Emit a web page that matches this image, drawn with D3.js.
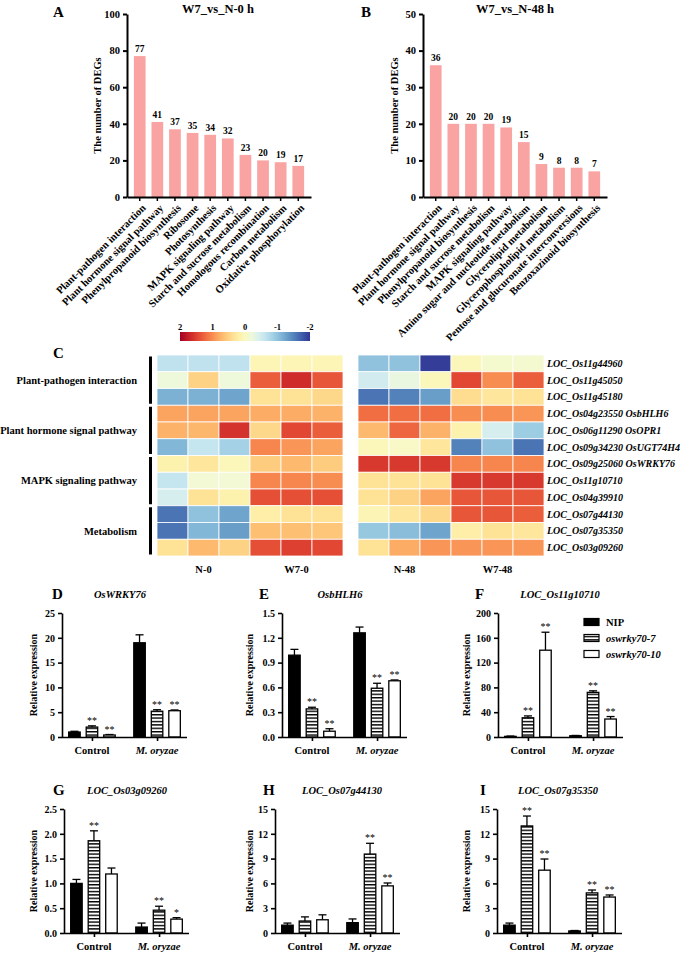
<!DOCTYPE html>
<html><head><meta charset="utf-8">
<script src="https://cdn.jsdelivr.net/npm/d3@7"></script>
<style>
body{margin:0;background:#fff}
svg{display:block}
text{font-family:"Liberation Serif","Times New Roman",serif;font-weight:bold;fill:#000}
</style>
</head><body>
<svg id="c" width="685" height="954"></svg>
<script>
// ---------- DATA ----------
const pathwaysA = ["Plant-pathogen interaction","Plant hormone signal pathway","Phenylpropanoid biosynthesis","Ribosome","Photosynthesis","MAPK signaling pathway","Starch and sucrose metabolism","Homologous recombination","Carbon metabolism","Oxidative phosphorylation"];
const degA = [77,41,37,35,34,32,23,20,19,17];
const pathwaysB = ["Plant-pathogen interaction","Plant hormone signal pathway","Phenylpropanoid biosynthesis","Starch and sucrose metabolism","MAPK signaling pathway","Amino sugar and nucleotide metabolism","Glycerolipid metabolism","Glycerophospholipid metabolism","Pentose and glucuronate interconversions","Benzoxazinoid biosynthesis"];
const degB = [36,20,20,20,19,15,9,8,8,7];

const heatGenes = ["LOC_Os11g44960","LOC_Os11g45050","LOC_Os11g45180","LOC_Os04g23550 OsbHLH6","LOC_Os06g11290 OsOPR1","LOC_Os09g34230 OsUGT74H4","LOC_Os09g25060 OsWRKY76","LOC_Os11g10710","LOC_Os04g39910","LOC_Os07g44130","LOC_Os07g35350","LOC_Os03g09260"];
const heatGroupNames = ["Plant-pathogen interaction","Plant hormone signal pathway","MAPK signaling pathway","Metabolism"];
const heatGroupSizes = [3,3,3,3];
const heatSamples = ["N-0","W7-0","N-48","W7-48"];
const colorTicks = [2,1,0,-1,-2];
// each row: N-0 x3, W7-0 x3, N-48 x3, W7-48 x3
const heatValues = [
  [-0.65,-0.65,-0.65, 0.08,0.08,0.08,  -1.0,-1.0,-1.95, 0.05,-0.1,-0.12],
  [-0.2,0.5,-0.2,     1.3,1.65,1.35,   -0.5,-0.25,0.05, 1.45,1.0,1.3],
  [-1.15,-1.15,-1.25, 0.35,0.35,0.45,  -1.6,-1.5,-1.3,  0.4,0.3,0.35],
  [0.85,0.85,0.85,    0.8,0.8,0.75,    1.2,1.2,1.2,     1.0,1.0,0.95],
  [0.75,0.72,1.6,     0.45,1.45,1.3,   0.7,1.25,0.75,   0.15,-0.45,-0.9],
  [-1.1,-0.6,-0.85,   1.05,0.95,0.85,  0.05,-0.05,0.3,  -1.5,-1.0,-1.6],
  [0.15,0.3,0.05,     0.55,0.7,0.55,   1.55,1.55,1.55,  1.05,1.05,1.05],
  [-0.6,-0.15,-0.15,  1.05,1.05,1.0,   0.35,0.35,0.35,  1.55,1.55,1.55],
  [-0.45,0.35,0.15,   1.4,1.4,1.4,     0.35,0.5,0.85,   1.35,1.35,1.35],
  [-1.6,-1.0,-1.25,   0.2,0.35,0.35,   0.1,0.3,0.45,    1.35,1.35,1.3],
  [-1.6,-1.1,-1.3,    0.65,0.65,0.6,   -0.95,-1.05,-1.25, 0.2,0.35,0.3],
  [0.35,0.7,0.5,      1.4,1.5,1.45,    0.35,0.8,0.95,   0.95,0.95,0.95]
];

const genotypes = ["NIP","oswrky70-7","oswrky70-10"];
const treatments = ["Control","M. oryzae"];
// order: Control NIP, 70-7, 70-10, M. oryzae NIP, 70-7, 70-10
const wrky76Mean = [1.0,2.0,0.4,19.0,5.2,5.3];
const wrky76Err  = [0.15,0.25,0.1,1.6,0.3,0.15];
const wrky76Sig  = ["","**","**","","**","**"];
const bhlh6Mean = [0.99,0.34,0.07,1.26,0.59,0.68];
const bhlh6Err  = [0.07,0.02,0.03,0.07,0.06,0.01];
const bhlh6Sig  = ["","**","**","","**","**"];
const g10710Mean = [1,31,140,2,72,29];
const g10710Err  = [0.5,3,29,0.5,2.5,4];
const g10710Sig  = ["","**","**","","**","**"];
const g09260Mean = [1.0,1.86,1.19,0.12,0.46,0.28];
const g09260Err  = [0.08,0.2,0.12,0.08,0.08,0.03];
const g09260Sig  = ["","**","","","**","*"];
const g44130Mean = [0.95,1.45,1.6,1.25,9.55,5.7];
const g44130Err  = [0.25,0.5,0.6,0.45,1.3,0.35];
const g44130Sig  = ["","","","","**","**"];
const g35350Mean = [0.95,12.95,7.6,0.25,4.85,4.35];
const g35350Err  = [0.25,1.2,1.35,0.05,0.35,0.25];
const g35350Sig  = ["","**","**","","**","**"];

// ---------- DRAW ----------
const svg = d3.select("#c");
const defs = svg.append("defs");
const pat = defs.append("pattern").attr("id","stripe").attr("patternUnits","userSpaceOnUse")
  .attr("width",8).attr("height",3.4);
pat.append("rect").attr("width",8).attr("height",3.4).attr("fill","#fff");
pat.append("rect").attr("y",0).attr("width",8).attr("height",1.4).attr("fill","#000");

function styleAxis(g, fs){
  g.selectAll("text").attr("font-family","Liberation Serif, Times New Roman, serif")
   .attr("font-weight","bold").attr("font-size",fs).attr("fill","#000");
  g.selectAll("path,line").attr("stroke","#000");
}

function degChart(cfg){
  const x = d3.scaleBand().domain(cfg.cats).range([cfg.x0,cfg.x1]).paddingInner(0.335).paddingOuter(0.39);
  const y = d3.scaleLinear().domain([0,cfg.max]).range([cfg.yb,cfg.yt]);
  const g = svg.append("g");
  g.selectAll("rect.bar").data(cfg.vals).join("rect").attr("class","bar")
    .attr("x",(d,i)=>x(cfg.cats[i])).attr("width",x.bandwidth())
    .attr("y",d=>y(d)).attr("height",d=>y(0)-y(d)).attr("fill","#f9a3a3");
  g.selectAll("text.val").data(cfg.vals).join("text").attr("class","val")
    .attr("x",(d,i)=>x(cfg.cats[i])+x.bandwidth()/2).attr("y",d=>y(d)-4)
    .attr("text-anchor","middle").attr("font-size",9.5).text(d=>d);
  const ya = g.append("g").attr("transform",`translate(${cfg.x0},0)`)
    .call(d3.axisLeft(y).ticks(5).tickSize(4).tickSizeOuter(0));
  ya.select(".domain").attr("stroke-width",2);
  ya.selectAll("line").attr("stroke-width",2);
  styleAxis(ya,10.5);
  const xa = g.append("g").attr("transform",`translate(0,${cfg.yb})`)
    .call(d3.axisBottom(x).tickSize(4).tickSizeOuter(0).tickFormat(""));
  xa.select(".domain").attr("stroke-width",2);
  xa.selectAll("line").attr("stroke-width",1.5);
  styleAxis(xa,10);
  g.selectAll("text.cat").data(cfg.cats).join("text").attr("class","cat")
    .attr("transform",d=>`translate(${x(d)+x.bandwidth()/2+4},${cfg.yb+9}) rotate(-45)`)
    .attr("text-anchor","end").attr("dy","0.35em").attr("font-size",10.6).text(d=>d);
  g.append("text").attr("x",cfg.titleX).attr("y",13).attr("text-anchor","middle")
    .attr("font-size",12.5).text(cfg.title);
  g.append("text").attr("x",cfg.letterX).attr("y",17).attr("font-size",15).text(cfg.letter);
  g.append("text").attr("transform",`translate(${cfg.ylabX},${(cfg.yt+cfg.yb)/2}) rotate(-90)`)
    .attr("text-anchor","middle").attr("font-size",10.5).text("The number of DEGs");
}
degChart({cats:pathwaysA, vals:degA, x0:127, x1:311, yt:14, yb:197, max:100, title:"W7_vs_N-0 h", titleX:218, letter:"A", letterX:53, ylabX:101});
degChart({cats:pathwaysB, vals:degB, x0:423, x1:607, yt:14, yb:197, max:50, title:"W7_vs_N-48 h", titleX:515, letter:"B", letterX:361, ylabX:398});

// ---------- HEATMAP ----------
const color = d3.scaleSequential(d3.interpolateRdYlBu).domain([2,-2]);
const rowY = d3.scaleBand().domain(heatGenes).range([355,556]);
const blocks = [[157,343],[358,544]];
const hg = svg.append("g");
heatValues.forEach((row,ri)=>{
  row.forEach((v,ci)=>{
    const b = blocks[Math.floor(ci/6)];
    const cx = d3.scaleBand().domain(d3.range(6)).range(b);
    hg.append("rect").attr("x",cx(ci%6)).attr("y",rowY(heatGenes[ri]))
      .attr("width",cx.bandwidth()).attr("height",rowY.bandwidth())
      .attr("fill",color(v)).attr("stroke","#fff").attr("stroke-width",0.8);
  });
});
hg.selectAll("text.gene").data(heatGenes).join("text").attr("class","gene")
  .attr("x",547).attr("y",d=>rowY(d)+rowY.bandwidth()/2).attr("dy","0.35em")
  .attr("font-size",10).attr("font-style","italic").text(d=>d);
heatSamples.forEach((s,i)=>{
  const b = blocks[Math.floor(i/2)];
  const half = (b[1]-b[0])/2;
  const cxm = b[0] + half*(i%2) + half/2;
  hg.append("text").attr("x",cxm).attr("y",573).attr("text-anchor","middle").attr("font-size",10.5).text(s);
});
let start = 0;
heatGroupNames.forEach((n,i)=>{
  const y0 = rowY(heatGenes[start]);
  const y1 = rowY(heatGenes[start+heatGroupSizes[i]-1])+rowY.bandwidth();
  hg.append("rect").attr("x",149).attr("y",y0+1.5).attr("width",3).attr("height",y1-y0-3).attr("fill","#000");
  hg.append("text").attr("x",137).attr("y",(y0+y1)/2).attr("dy","0.35em").attr("text-anchor","end")
    .attr("font-size",10.5).text(n);
  start += heatGroupSizes[i];
});
// colorbar
const cb = d3.scaleLinear().domain([2,-2]).range([180,310]);
const grad = defs.append("linearGradient").attr("id","cbar");
d3.range(0,1.0001,0.05).forEach(t=>{
  grad.append("stop").attr("offset",t).attr("stop-color",color(2-4*t));
});
hg.append("rect").attr("x",180).attr("y",332).attr("width",130).attr("height",9).attr("fill","url(#cbar)");
hg.selectAll("text.cbt").data(colorTicks).join("text").attr("class","cbt")
  .attr("x",d=>cb(d)).attr("y",330).attr("text-anchor","middle").attr("font-size",8.5).text(d=>d);
hg.append("text").attr("x",53).attr("y",358).attr("font-size",15).text("C");

// ---------- qPCR ----------
function qpcr(cfg){
  const g = svg.append("g");
  const y = d3.scaleLinear().domain([0,cfg.max]).range([cfg.yb,cfg.yt]);
  const xg = d3.scalePoint().domain(treatments).range([cfg.ax, cfg.ax+125]).padding(0.46);
  const xs = d3.scaleBand().domain(genotypes).range([-26.25,26.25]).paddingInner(0.343).paddingOuter(0.17);
  const data = cfg.mean.map((m,i)=>({m, e:cfg.err[i], s:cfg.sig[i], t:treatments[Math.floor(i/3)], gt:genotypes[i%3]}));
  const fills = {"NIP":"#000","oswrky70-7":"url(#stripe)","oswrky70-10":"#fff"};
  data.forEach(d=>{
    const bx = xg(d.t)+xs(d.gt);
    const cx = bx + xs.bandwidth()/2;
    const top = y(d.e + d.m);
    g.append("line").attr("x1",cx).attr("x2",cx).attr("y1",y(d.m)).attr("y2",top).attr("stroke","#000").attr("stroke-width",1.3);
    g.append("line").attr("x1",cx-4).attr("x2",cx+4).attr("y1",top).attr("y2",top).attr("stroke","#000").attr("stroke-width",1.3);
    g.append("rect").attr("x",bx).attr("y",y(d.m)).attr("width",xs.bandwidth()).attr("height",y(0)-y(d.m))
      .attr("fill",fills[d.gt]).attr("stroke","#000").attr("stroke-width",1.3);
    if(d.s) g.append("text").attr("x",cx).attr("y",top-2).attr("text-anchor","middle")
      .attr("font-size",10).attr("fill","#333").style("font-weight","normal").text(d.s);
  });
  const ticks = d3.range(0, cfg.max+cfg.step/2, cfg.step);
  const ya = g.append("g").attr("transform",`translate(${cfg.ax},0)`)
    .call(d3.axisLeft(y).tickValues(ticks).tickFormat(d3.format(cfg.fmt)).tickSize(4).tickSizeOuter(0));
  ya.select(".domain").attr("stroke-width",1.6);
  ya.selectAll("line").attr("stroke-width",1.6);
  styleAxis(ya,10);
  const xa = g.append("g").attr("transform",`translate(0,${cfg.yb})`)
    .call(d3.axisBottom(xg).tickSize(4).tickSizeOuter(0).tickFormat(""));
  xa.select(".domain").attr("d",`M${cfg.ax},0.5H${cfg.ax+125}`).attr("stroke-width",1.6);
  xa.selectAll("line").attr("stroke-width",1.6);
  styleAxis(xa,10);
  treatments.forEach((t,i)=>{
    g.append("text").attr("x",xg(t)).attr("y",cfg.yb+17).attr("text-anchor","middle").attr("font-size",10.5)
      .attr("font-style",i?"italic":"normal").text(t);
  });
  g.append("text").attr("transform",`translate(${cfg.ylabX},${(cfg.yt+cfg.yb)/2}) rotate(-90)`)
    .attr("text-anchor","middle").attr("font-size",10).text("Relative expression");
  g.append("text").attr("x",cfg.titleX).attr("y",cfg.yt-15).attr("text-anchor","middle")
    .attr("font-size",10.5).attr("font-style","italic").text(cfg.title);
  g.append("text").attr("x",cfg.letterX).attr("y",cfg.yt-14).attr("font-size",15).text(cfg.letter);
  if(cfg.legend){
    genotypes.forEach((gt,i)=>{
      const ly = 622 + i*16;
      g.append("rect").attr("x",584).attr("y",ly-3.5).attr("width",15).attr("height",7)
        .attr("fill",fills[gt]).attr("stroke","#000").attr("stroke-width",1.2);
      g.append("text").attr("x",606).attr("y",ly).attr("dy","0.35em").attr("font-size",10.5)
        .attr("font-style",i?"italic":"normal").text(gt);
    });
  }
}
qpcr({ax:62, yt:613, yb:737, max:25, step:5, fmt:"d", mean:wrky76Mean, err:wrky76Err, sig:wrky76Sig, title:"OsWRKY76", titleX:120, letter:"D", letterX:52, ylabX:37});
qpcr({ax:282, yt:613, yb:737, max:1.5, step:0.3, fmt:".1f", mean:bhlh6Mean, err:bhlh6Err, sig:bhlh6Sig, title:"OsbHLH6", titleX:340, letter:"E", letterX:259, ylabX:253});
qpcr({ax:498, yt:613, yb:737, max:200, step:40, fmt:"d", mean:g10710Mean, err:g10710Err, sig:g10710Sig, title:"LOC_Os11g10710", titleX:560, letter:"F", letterX:475, ylabX:470, legend:true});
qpcr({ax:64, yt:809, yb:933, max:2.5, step:0.5, fmt:".1f", mean:g09260Mean, err:g09260Err, sig:g09260Sig, title:"LOC_Os03g09260", titleX:127, letter:"G", letterX:53, ylabX:37});
qpcr({ax:275, yt:809, yb:933, max:15, step:3, fmt:"d", mean:g44130Mean, err:g44130Err, sig:g44130Sig, title:"LOC_Os07g44130", titleX:342, letter:"H", letterX:263, ylabX:253});
qpcr({ax:497, yt:809, yb:933, max:15, step:3, fmt:"d", mean:g35350Mean, err:g35350Err, sig:g35350Sig, title:"LOC_Os07g35350", titleX:558, letter:"I", letterX:480, ylabX:470});
</script>
</body></html>
